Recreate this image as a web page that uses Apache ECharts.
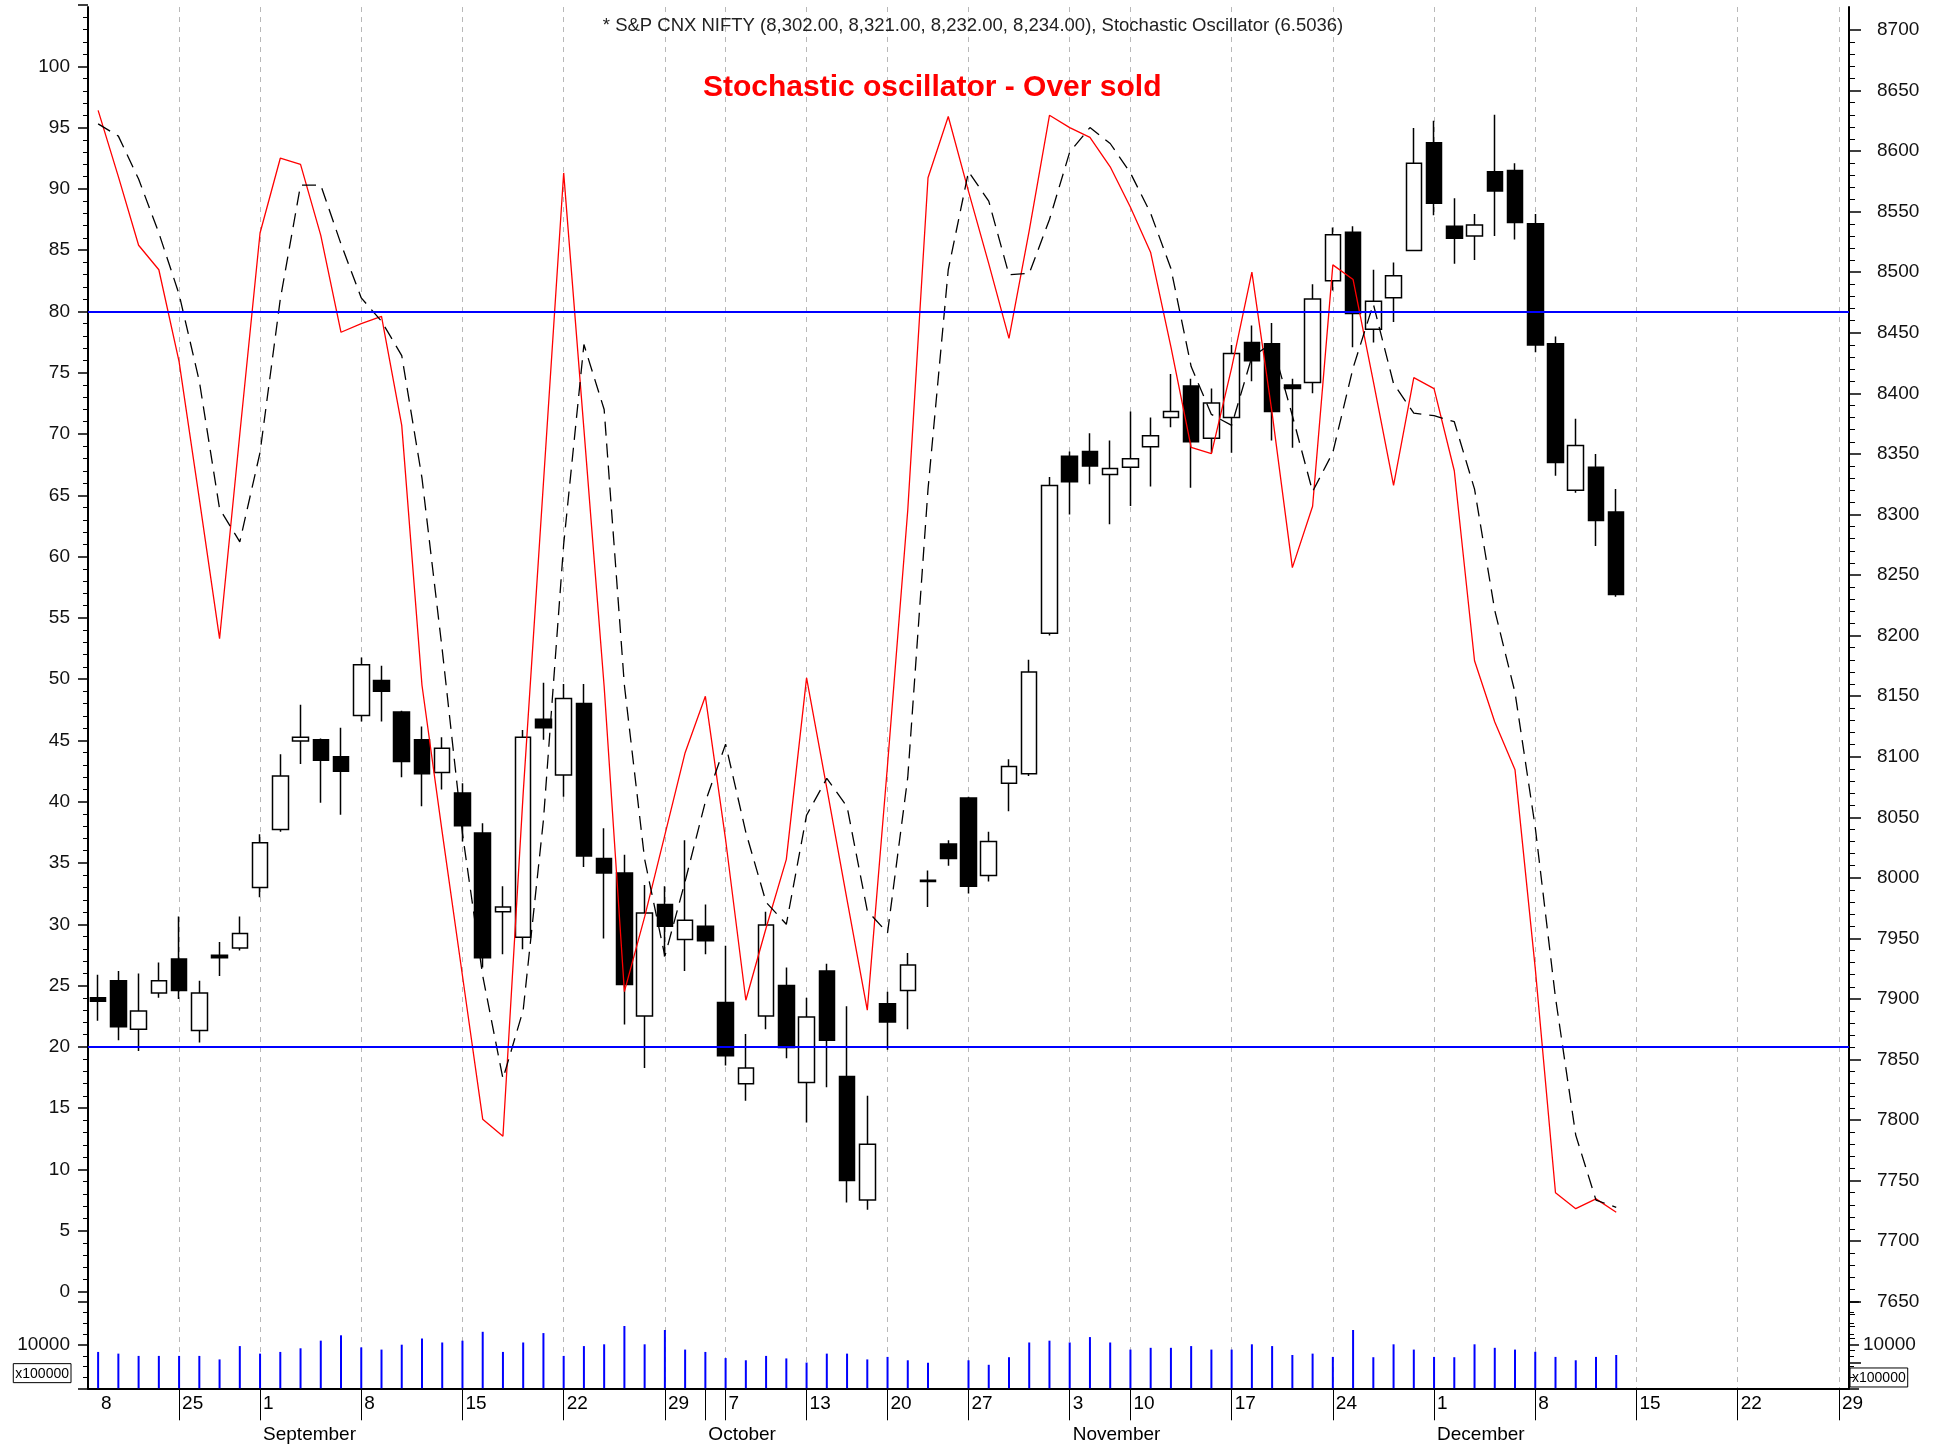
<!DOCTYPE html>
<html>
<head>
<meta charset="utf-8">
<title>S&amp;P CNX NIFTY - Stochastic oscillator</title>
<script src="https://cdn.jsdelivr.net/npm/echarts@6.0.0/dist/echarts.min.js"></script>
<style>
  html, body { margin: 0; padding: 0; background: #fff; }
  #chart { width: 1946px; height: 1450px; }
</style>
</head>
<body>
<div id="chart"></div>
<script>
// trading days, Aug 19 .. Dec 29 2014 (days after Dec 12 are empty)
const days = [
  '08-19', '08-20', '08-21', '08-22', '08-25', '08-26', '08-27', '08-28',
  '09-01', '09-02', '09-03', '09-04', '09-05', '09-08', '09-09', '09-10', '09-11', '09-12',
  '09-15', '09-16', '09-17', '09-18', '09-19', '09-22', '09-23', '09-24', '09-25', '09-26',
  '09-29', '09-30', '10-01', '10-07', '10-08', '10-09', '10-10', '10-13', '10-14', '10-16', '10-17',
  '10-20', '10-21', '10-22', '10-23', '10-27', '10-28', '10-29', '10-30', '10-31',
  '11-03', '11-05', '11-07', '11-10', '11-11', '11-12', '11-13', '11-14',
  '11-17', '11-18', '11-19', '11-20', '11-21', '11-24', '11-25', '11-26', '11-27', '11-28',
  '12-01', '12-02', '12-03', '12-04', '12-05', '12-08', '12-09', '12-10', '12-11', '12-12',
  '12-15', '12-16', '12-17', '12-18', '12-19', '12-22', '12-23', '12-24', '12-25', '12-26', '12-29'
]

// tick labels of the two date rows (key = day index)
const dateLabels = {
  0: '8', 4: '25', 8: '1', 13: '8', 18: '15', 23: '22', 28: '29', 31: '7', 35: '13', 39: '20',
  43: '27', 48: '3', 51: '10', 56: '17', 61: '24', 66: '1', 71: '8', 76: '15', 81: '22', 86: '29'
}
const weekStarts = [4, 8, 13, 18, 23, 28, 31, 35, 39, 43, 48, 51, 56, 61, 66, 71, 76, 81, 86]
const monthLabels = { 8: 'September', 30: 'October', 48: 'November', 66: 'December' }

// [open, close, low, high]
const ohlc = [
  [7901, 7898, 7882, 7920], [7915, 7877, 7866, 7923], [7875, 7890, 7857, 7921], [7905, 7915, 7901, 7930],
  [7933, 7907, 7900, 7968], [7874, 7905, 7864, 7915], [7936, 7934, 7919, 7947], [7942, 7954, 7940, 7968],
  [7992, 8029, 7984, 8036], [8040, 8084, 8038, 8102], [8113, 8116, 8094, 8143], [8114, 8097, 8062, 8115],
  [8100, 8088, 8052, 8124], [8134, 8176, 8129, 8182], [8163, 8154, 8129, 8175], [8137, 8096, 8083, 8138],
  [8114, 8086, 8059, 8125], [8087, 8107, 8073, 8116], [8070, 8043, 8030, 8078], [8037, 7934, 7926, 8045],
  [7972, 7976, 7937, 7993], [7951, 8116, 7941, 8122], [8131, 8124, 8114, 8161], [8085, 8148, 8067, 8160],
  [8144, 8018, 8009, 8160], [8016, 8004, 7950, 8041], [8004, 7912, 7879, 8019], [7886, 7971, 7843, 7994],
  [7978, 7960, 7935, 7993], [7949, 7965, 7923, 8031], [7960, 7948, 7937, 7978], [7897, 7853, 7845, 7944],
  [7830, 7843, 7816, 7871], [7886, 7961, 7875, 7972], [7911, 7860, 7851, 7926], [7831, 7885, 7798, 7901],
  [7923, 7866, 7827, 7929], [7836, 7750, 7732, 7894], [7734, 7780, 7726, 7820], [7896, 7881, 7858, 7906],
  [7907, 7928, 7875, 7938], [7997, 7998, 7976, 8006], [8028, 8016, 8010, 8031], [8066, 7993, 7987, 8067],
  [8002, 8030, 7997, 8038], [8078, 8092, 8055, 8098], [8086, 8170, 8084, 8180], [8202, 8324, 8200, 8331],
  [8348, 8327, 8300, 8352], [8352, 8340, 8325, 8367], [8333, 8338, 8292, 8361], [8339, 8346, 8307, 8385],
  [8356, 8365, 8323, 8380], [8380, 8385, 8372, 8416], [8406, 8360, 8322, 8412], [8363, 8392, 8351, 8404],
  [8380, 8433, 8351, 8440], [8442, 8427, 8410, 8456], [8441, 8385, 8361, 8458], [8407, 8404, 8355, 8412],
  [8409, 8478, 8400, 8490], [8493, 8531, 8485, 8537], [8533, 8466, 8438, 8538], [8453, 8476, 8442, 8502],
  [8479, 8497, 8459, 8508], [8518, 8590, 8518, 8619], [8607, 8557, 8547, 8625], [8538, 8528, 8507, 8561],
  [8530, 8539, 8510, 8548], [8583, 8567, 8530, 8630], [8584, 8541, 8527, 8590], [8540, 8440, 8434, 8548],
  [8441, 8343, 8332, 8447], [8320, 8357, 8318, 8379], [8339, 8295, 8274, 8350], [8302, 8234, 8232, 8321]
]

// stochastic %K (red) and %D (black dashed)
const pctK = [
  96.4, 91.0, 85.4, 83.4, 75.9, 64.7, 53.3, 70.0, 86.4, 92.5,
  92.0, 86.2, 78.3, 79.0, 79.6, 70.7, 49.5, 37.5, 25.8, 14.1,
  12.7, 40.7, 66.0, 91.3, 70.4, 49.4, 24.5, 30.6, 37.3, 44.0,
  48.6, 36.9, 23.8, 29.7, 35.3, 50.1, 41.1, 32.0, 23.0, 43.0,
  63.8, 90.9, 95.9, 89.8, 83.9, 77.8, 86.6, 96.0, 95.0, 94.2,
  91.8, 88.5, 84.8, 77.1, 68.9, 68.4, 75.4, 83.2, 71.7, 59.1,
  64.1, 83.8, 82.6, 74.3, 65.8, 74.6, 73.7, 67.0, 51.5, 46.5,
  42.6, 26.4, 8.1, 6.8, 7.6, 6.5
]
const pctD = [
  95.3, 94.3, 90.8, 86.4, 81.4, 74.3, 63.9, 61.2, 68.5, 81.0,
  90.3, 90.3, 85.5, 81.1, 79.2, 76.4, 66.4, 52.4, 37.4, 25.8,
  17.4, 23.0, 38.5, 61.0, 77.3, 72.0, 49.5, 35.3, 27.4, 33.5,
  40.0, 44.7, 37.5, 31.8, 30.0, 38.9, 41.9, 39.6, 31.1, 29.3,
  42.0, 65.5, 83.4, 91.4, 89.0, 83.0, 83.1, 87.5, 93.0, 95.0,
  93.7, 91.3, 88.0, 83.5, 75.5, 71.6, 70.7, 76.3, 77.4, 71.5,
  65.3, 68.5, 75.4, 80.6, 74.1, 71.7, 71.5, 71.0, 65.5, 55.6,
  48.9, 37.9, 24.0, 12.8, 7.5, 6.9
]
const levels = [80, 20]

// volume, in units of 100000
const volume = [
  8400, 8010, 7480, 7480, 7480, 7480, 6670, 9750, 8010, 8400,
  9240, 11000, 12240, 9450, 8940, 10070, 11500, 10580, 11000, 13050,
  8400, 10580, 12750, 7480, 9750, 10160, 14390, 10160, 13470, 8940,
  8400, 6980, 6470, 7480, 6900, 5940, 8010, 8010, 6670, 7250,
  6470, 5900, null, 6470, 5430, 7180, 10580, 11000, 10580, 11830,
  10580, 8940, 9350, 9350, 9750, 8940, 8940, 10160, 9750, 7690,
  8010, 7250, 13470, 7180, 10160, 8940, 7250, 7180, 10160, 9350,
  8940, 8430, 7250, 6470, 7250, 7690
]

const font = '"Liberation Sans", Arial, sans-serif'
const plotLeft = 88
const plotWidth = 1761
const dateRowTicks = weekStarts.concat([30])

const chart = echarts.init(document.getElementById('chart'), null, { renderer: 'canvas' })

function hiddenX(gi) {
  return { type: 'category', gridIndex: gi, data: days, boundaryGap: true, show: false }
}

function grid(top, height) {
  return { left: plotLeft, width: plotWidth, top: top, height: height, outerBoundsMode: 'none' }
}

const noLine = { show: false }
const blackTick = { show: true, length: 10, lineStyle: { color: '#000', width: 1.5 } }
const boxRich = { b: { fontSize: 14, color: '#000', borderColor: '#000', borderWidth: 1, padding: [3, 2, 2, 2] } }

chart.setOption({
  animation: false,
  backgroundColor: '#fff',
  textStyle: { fontFamily: font },
  title: [{
    text: '* S&P CNX NIFTY (8,302.00, 8,321.00, 8,232.00, 8,234.00), Stochastic Oscillator (6.5036)',
    left: 'center',
    top: 16,
    padding: 0,
    textStyle: { fontSize: 18.5, fontWeight: 'normal', color: '#222', fontFamily: font }
  }, {
    text: 'Stochastic oscillator - Over sold',
    left: 703,
    top: 73,
    padding: 0,
    textStyle: { fontSize: 30, fontWeight: 'bold', color: '#ff0000', fontFamily: font }
  }],
  grid: [
    grid(7, 1381.3), // frame
    grid(5, 1287), // stochastic 0..105
    grid(30, 1332.3), // price 7600..8700
    grid(1301.7, 86.6) // volume
  ],
  xAxis: [{
    type: 'category',
    gridIndex: 0,
    data: days,
    position: 'bottom',
    axisLine: { show: true, lineStyle: { color: '#000', width: 1.5 } },
    axisTick: {
      show: true,
      interval: (i) => dateRowTicks.includes(i),
      alignWithLabel: true,
      length: 32,
      lineStyle: { color: '#000', width: 1 }
    },
    axisLabel: {
      interval: (i) => i in dateLabels,
      formatter: (v, i) => dateLabels[i],
      align: 'left',
      padding: [0, 0, 0, 3],
      margin: 6,
      fontSize: 19,
      color: '#000'
    },
    splitLine: {
      show: true,
      interval: (i) => weekStarts.includes(i),
      alignWithLabel: true,
      lineStyle: { color: '#b8b8b8', type: [5, 5], width: 1 }
    }
  }, {
    type: 'category',
    gridIndex: 0,
    data: days,
    position: 'bottom',
    offset: 32,
    axisLine: { show: true, lineStyle: { color: '#000', width: 2 } },
    axisTick: {
      show: true,
      interval: (i) => i in monthLabels,
      alignWithLabel: true,
      length: 30,
      lineStyle: { color: '#000', width: 1 }
    },
    axisLabel: {
      interval: (i) => i in monthLabels,
      formatter: (v, i) => monthLabels[i],
      align: 'left',
      padding: [0, 0, 0, 3],
      margin: 5,
      fontSize: 19,
      color: '#000'
    },
    splitLine: { show: false }
  },
  hiddenX(1), hiddenX(2), hiddenX(3)],
  yAxis: [{
    type: 'value', gridIndex: 0, position: 'left', min: 0, max: 1,
    axisLine: { show: true, lineStyle: { color: '#000', width: 2 } },
    axisTick: noLine, axisLabel: noLine, splitLine: noLine
  }, {
    type: 'value', gridIndex: 0, position: 'right', min: 0, max: 1,
    axisLine: { show: true, lineStyle: { color: '#000', width: 2 } },
    axisTick: noLine, axisLabel: noLine, splitLine: noLine
  }, {
    // stochastic scale
    type: 'value', gridIndex: 1, position: 'left', min: 0, max: 105, interval: 5,
    axisLine: noLine,
    axisTick: blackTick,
    minorTick: { show: true, splitNumber: 5, length: 5, lineStyle: { color: '#000' } },
    axisLabel: { formatter: (v) => (v <= 100 ? String(v) : ''), margin: 18, fontSize: 19, color: '#111' },
    splitLine: noLine, minorSplitLine: noLine
  }, {
    // price scale
    type: 'value', gridIndex: 2, position: 'right', min: 7600, max: 8700, interval: 50,
    axisLine: noLine,
    axisTick: { show: true, length: 12, lineStyle: { color: '#000', width: 1.5 } },
    minorTick: { show: true, splitNumber: 5, length: 6, lineStyle: { color: '#000' } },
    axisLabel: { formatter: (v) => (v >= 7650 ? String(v) : ''), margin: 28, fontSize: 19, color: '#111' },
    splitLine: noLine, minorSplitLine: noLine
  }, {
    // volume scale
    type: 'value', gridIndex: 3, position: 'left', min: 0, max: 20000, interval: 10000,
    axisLine: noLine,
    axisTick: blackTick,
    minorTick: { show: true, splitNumber: 4, length: 5, lineStyle: { color: '#000' } },
    axisLabel: { formatter: (v) => (v === 10000 ? '10000' : ''), margin: 18, fontSize: 19, color: '#111' },
    splitLine: noLine, minorSplitLine: noLine
  }, {
    type: 'value', gridIndex: 3, position: 'right', min: 0, max: 20000, interval: 10000,
    axisLine: noLine,
    axisTick: blackTick,
    minorTick: { show: true, splitNumber: 4, length: 5, lineStyle: { color: '#000' } },
    axisLabel: { formatter: (v) => (v === 10000 ? '10000' : ''), margin: 14, fontSize: 19, color: '#111' },
    splitLine: noLine, minorSplitLine: noLine
  }, {
    // "x100000" unit boxes
    type: 'value', gridIndex: 3, position: 'left', min: 0, max: 20000, interval: 3500,
    axisLine: noLine, axisTick: noLine, splitLine: noLine,
    axisLabel: { formatter: (v) => (v === 3500 ? '{b|x100000}' : ''), margin: 17, rich: boxRich }
  }, {
    type: 'value', gridIndex: 3, position: 'right', min: 0, max: 20000, interval: 2500,
    axisLine: noLine, axisTick: noLine, splitLine: noLine,
    axisLabel: { formatter: (v) => (v === 2500 ? '{b|x100000}' : ''), margin: 1, rich: boxRich }
  }],
  series: [{
    name: 'S&P CNX NIFTY',
    type: 'candlestick',
    xAxisIndex: 3,
    yAxisIndex: 3,
    data: ohlc,
    barWidth: 16,
    z: 2,
    itemStyle: { color: '#fff', color0: '#000', borderColor: '#000', borderColor0: '#000', borderWidth: 1.5 }
  }, {
    name: '%K',
    type: 'line',
    xAxisIndex: 2,
    yAxisIndex: 2,
    data: pctK,
    symbol: 'none',
    z: 4,
    lineStyle: { color: '#ff0000', width: 1.3 },
    markLine: {
      silent: true,
      symbol: ['none', 'none'],
      label: { show: false },
      emphasis: { disabled: true },
      lineStyle: { color: '#0000ff', width: 2, type: 'solid' },
      data: levels.map((v) => ({ yAxis: v }))
    }
  }, {
    name: '%D',
    type: 'line',
    xAxisIndex: 2,
    yAxisIndex: 2,
    data: pctD,
    symbol: 'none',
    z: 4,
    lineStyle: { color: '#000', width: 1.3, type: [14, 8] }
  }, {
    name: 'Volume',
    type: 'bar',
    xAxisIndex: 4,
    yAxisIndex: 4,
    data: volume,
    barWidth: 2,
    z: 2,
    itemStyle: { color: '#0000ff' }
  }]
})
</script>
</body>
</html>
